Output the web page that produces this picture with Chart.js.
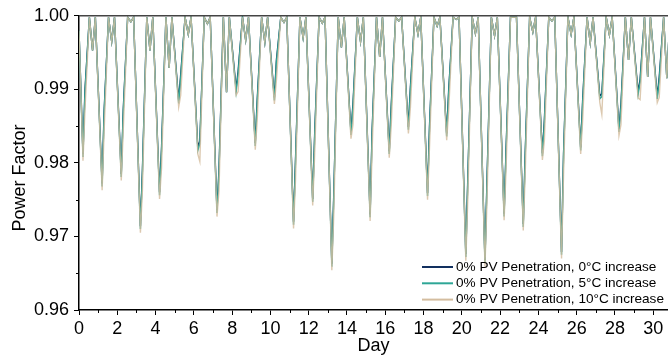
<!DOCTYPE html>
<html>
<head>
<meta charset="utf-8">
<script src="https://cdn.jsdelivr.net/npm/chart.js@4.4.0/dist/chart.umd.min.js"></script>
<style>
  html, body { margin: 0; padding: 0; background: #fff; }
  #wrap { width: 668px; height: 360px; position: relative; }
</style>
</head>
<body>
<div id="wrap"><canvas id="pfChart"></canvas></div>
<script>
// hour of the day where each daily feature sits: night low, shoulder, noon peak, afternoon dip, evening peak
const featureHours = [5, 7.5, 13, 17, 20.5];
const startValue = 0.998;

// night minimum per day
const low0 = [0.9812, 0.9772, 0.9785, 0.9714, 0.9760, 0.9885, 0.9821, 0.9736, 0.9901, 0.9827,
  0.9889, 0.9720, 0.9751, 0.9663, 0.9842, 0.9730, 0.9816, 0.9849, 0.9759, 0.9840,
  0.9676, 0.9668, 0.9731, 0.9717, 0.9813, 0.9679, 0.9821, 0.9891, 0.9846, 0.9897, 0.9891];
const low5 = [0.9808, 0.9768, 0.9781, 0.9710, 0.9756, 0.9881, 0.9817, 0.9732, 0.9897, 0.9823,
  0.9885, 0.9716, 0.9747, 0.9659, 0.9838, 0.9726, 0.9812, 0.9845, 0.9755, 0.9836,
  0.9672, 0.9664, 0.9727, 0.9713, 0.9809, 0.9675, 0.9817, 0.9887, 0.9842, 0.9893, 0.9887];
const low10 = [0.9803, 0.9763, 0.9776, 0.9705, 0.9751, 0.9876, 0.9812, 0.9727, 0.9892, 0.9818,
  0.9880, 0.9711, 0.9742, 0.9654, 0.9833, 0.9721, 0.9807, 0.9840, 0.9750, 0.9831,
  0.9667, 0.9659, 0.9722, 0.9708, 0.9804, 0.9670, 0.9812, 0.9882, 0.9837, 0.9888, 0.9882];

// shoulder on the way back up
const shoulder0 = [0.9900, 0.9871, 0.9873, 0.9790, 0.9821, 0.9920, 0.9830, 0.9790, 0.9925, 0.9887,
  0.9940, 0.9806, 0.9840, 0.9760, 0.9880, 0.9844, 0.9879, 0.9903, 0.9851, 0.9899,
  0.9780, 0.9775, 0.9821, 0.9815, 0.9859, 0.9812, 0.9886, 0.9894, 0.9880, 0.9914, 0.9917];
const shoulder5 = [0.9896, 0.9867, 0.9869, 0.9786, 0.9817, 0.9916, 0.9826, 0.9786, 0.9921, 0.9883,
  0.9936, 0.9802, 0.9836, 0.9756, 0.9876, 0.9840, 0.9875, 0.9899, 0.9847, 0.9895,
  0.9776, 0.9771, 0.9817, 0.9811, 0.9855, 0.9808, 0.9882, 0.9890, 0.9876, 0.9910, 0.9913];
const shoulder10 = [0.9872, 0.9843, 0.9845, 0.9762, 0.9793, 0.9892, 0.9802, 0.9762, 0.9897, 0.9859,
  0.9912, 0.9778, 0.9812, 0.9732, 0.9852, 0.9816, 0.9851, 0.9875, 0.9823, 0.9871,
  0.9752, 0.9747, 0.9793, 0.9787, 0.9831, 0.9784, 0.9858, 0.9866, 0.9852, 0.9886, 0.9889];

// daytime values, shared by the three series
const noonPeak = [0.9998, 0.9998, 0.9998, 0.9998, 0.9998, 0.9998, 0.9998, 0.9998, 0.9998, 0.9998,
  0.9998, 0.9998, 0.9998, 0.9998, 0.9998, 0.9998, 0.9998, 0.9998, 0.9998, 0.9998,
  0.9998, 0.9998, 0.9998, 0.9998, 0.9998, 0.9998, 0.9998, 0.9998, 0.9998, 0.9998, 0.9998];
const afternoonDip = [0.9953, 0.9965, 0.9992, 0.9953, 0.9929, 0.9975, 0.9989, 0.9896, 0.9967, 0.9964,
  0.9991, 0.9970, 0.9990, 0.9957, 0.9965, 0.9944, 0.9993, 0.9975, 0.9986, 0.9995,
  0.9976, 0.9973, 0.9998, 0.9978, 0.9993, 0.9975, 0.9963, 0.9974, 0.9940, 0.9917, 0.9915];
const eveningPeak = [0.9998, 0.9998, 0.9998, 0.9998, 0.9998, 0.9998, 0.9998, 0.9998, 0.9998, 0.9998,
  0.9998, 0.9998, 0.9998, 0.9998, 0.9998, 0.9998, 0.9998, 0.9998, 0.9998, 0.9998,
  0.9998, 0.9998, 0.9998, 0.9998, 0.9998, 0.9998, 0.9998, 0.9998, 0.9998, 0.9998, 0.9990];

const xTicks = [0, 2, 4, 6, 8, 10, 12, 14, 16, 18, 20, 22, 24, 26, 28, 30];
const xMinor = [1, 3, 5, 7, 9, 11, 13, 15, 17, 19, 21, 23, 25, 27, 29];
const yTicks = [0.96, 0.97, 0.98, 0.99, 1.00];
const yMinor = [0.965, 0.975, 0.985, 0.995];

const seriesNames = [
  "0% PV Penetration, 0°C increase",
  "0% PV Penetration, 5°C increase",
  "0% PV Penetration, 10°C increase",
];
const seriesColors = ["#12305f", "#2ea696", "#d4bd9f"];

function buildSeries(lows, shoulders) {
  const pts = [{ x: 0, y: startValue }];
  for (let d = 0; d < lows.length; d++) {
    const vals = [lows[d], shoulders[d], noonPeak[d], afternoonDip[d], eveningPeak[d]];
    featureHours.forEach((h, i) => pts.push({ x: d + h / 24, y: vals[i] }));
  }
  return pts;
}

const FONT = '"Liberation Sans", Arial, sans-serif';
Chart.defaults.font.family = FONT;
Chart.defaults.color = "#000";

// extras: top frame line, minor ticks, y title, legend inside the plot
const decorPlugin = {
  id: "decor",
  afterDraw(chart) {
    const { ctx, chartArea: a, scales } = chart;
    const x = scales.x, y = scales.y;
    ctx.save();

    ctx.strokeStyle = "#444";
    ctx.lineWidth = 1.5;
    ctx.beginPath();
    ctx.moveTo(a.left, a.top);
    ctx.lineTo(a.right, a.top);
    ctx.stroke();

    ctx.strokeStyle = "#000";
    ctx.lineWidth = 1;
    xMinor.forEach((v) => {
      const px = Math.round(x.getPixelForValue(v)) + 0.5;
      ctx.beginPath();
      ctx.moveTo(px, a.bottom);
      ctx.lineTo(px, a.bottom + 3);
      ctx.stroke();
    });
    yMinor.forEach((v) => {
      const py = Math.round(y.getPixelForValue(v)) + 0.5;
      ctx.beginPath();
      ctx.moveTo(a.left, py);
      ctx.lineTo(a.left - 3, py);
      ctx.stroke();
    });

    // y axis title
    ctx.save();
    ctx.translate(24.5, 178);
    ctx.rotate(-Math.PI / 2);
    ctx.font = "18px " + FONT;
    ctx.fillStyle = "#000";
    ctx.textAlign = "center";
    ctx.textBaseline = "alphabetic";
    ctx.fillText("Power Factor", 0, 0);
    ctx.restore();

    // legend
    ctx.font = "13.6px " + FONT;
    ctx.textAlign = "left";
    ctx.textBaseline = "middle";
    const lineX0 = a.right - 246, lineX1 = a.right - 215, textX = a.right - 212;
    seriesNames.forEach((name, i) => {
      const rowY = a.bottom - 43 + i * 16.3;
      ctx.strokeStyle = seriesColors[i];
      ctx.lineWidth = 2;
      ctx.beginPath();
      ctx.moveTo(lineX0, rowY);
      ctx.lineTo(lineX1, rowY);
      ctx.stroke();
      ctx.fillStyle = "#000";
      ctx.fillText(name, textX, rowY);
    });

    ctx.restore();
  },
};

const ctx = document.getElementById("pfChart").getContext("2d");
new Chart(ctx, {
  type: "line",
  data: {
    datasets: [
      { label: seriesNames[0], data: buildSeries(low0, shoulder0), borderColor: seriesColors[0], order: 3 },
      { label: seriesNames[1], data: buildSeries(low5, shoulder5), borderColor: seriesColors[1], order: 2 },
      { label: seriesNames[2], data: buildSeries(low10, shoulder10), borderColor: "rgba(212,189,159,0.82)", order: 1 },
    ],
  },
  options: {
    responsive: true,
    maintainAspectRatio: false,
    animation: false,
    parsing: false,
    elements: {
      line: { borderWidth: 1.4, tension: 0, fill: false },
      point: { radius: 0 },
    },
    layout: { padding: { top: 15, right: 0, left: 0, bottom: 0 } },
    plugins: {
      legend: { display: false },
      tooltip: { enabled: false },
    },
    scales: {
      x: {
        type: "linear",
        min: 0,
        max: 30.77,
        afterBuildTicks: (s) => { s.ticks = xTicks.map((v) => ({ value: v })); },
        afterFit: (s) => { s.height = 50; },
        ticks: { font: { size: 18 }, color: "#000", padding: 3, maxRotation: 0, autoSkip: false },
        grid: { drawOnChartArea: false, drawTicks: true, tickLength: 5, tickColor: "#000", tickWidth: 1 },
        border: { display: true, color: "#000", width: 1.5 },
        title: { display: true, text: "Day", font: { size: 18 }, color: "#000", padding: { top: 0, bottom: 3 } },
      },
      y: {
        min: 0.96,
        max: 1.0,
        afterBuildTicks: (s) => { s.ticks = yTicks.map((v) => ({ value: v })); },
        afterFit: (s) => { s.width = 79; },
        ticks: { font: { size: 18 }, color: "#000", padding: 5, callback: (v) => v.toFixed(2) },
        grid: { drawOnChartArea: false, drawTicks: true, tickLength: 5, tickColor: "#000", tickWidth: 1 },
        border: { display: true, color: "#000", width: 1.5 },
      },
    },
  },
  plugins: [decorPlugin],
});
</script>
</body>
</html>
